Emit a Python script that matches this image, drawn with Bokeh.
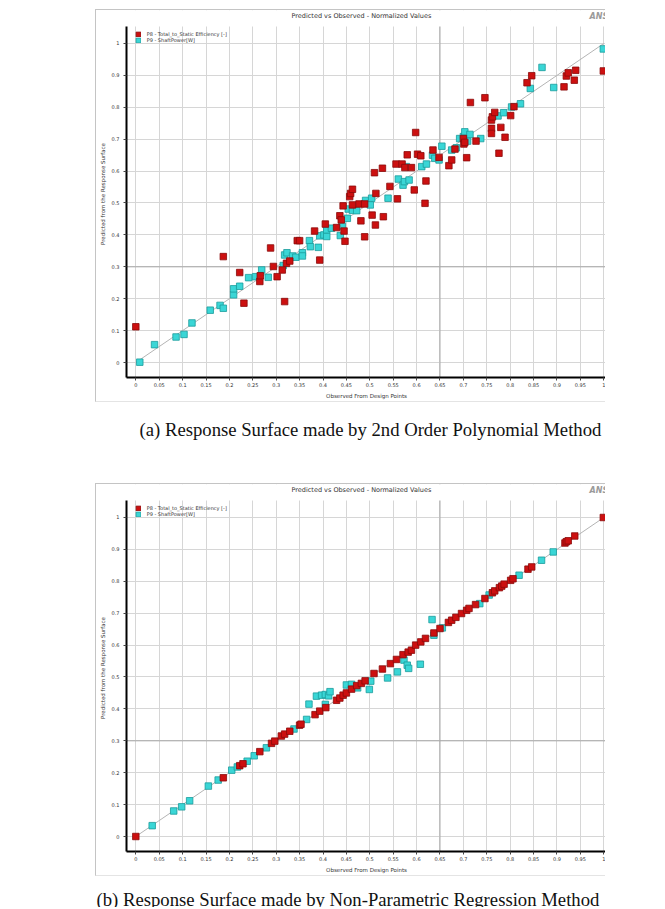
from bokeh.plotting import figure
from bokeh.models import (Range1d, FixedTicker, Span, Label, Legend, LegendItem,
                          ColumnDataSource, BoxAnnotation)
from bokeh.layouts import column
from bokeh.embed import file_html
from bokeh.resources import INLINE

# ---------------- data ----------------
TITLE = "Predicted vs Observed - Normalized Values"
X_LABEL = "Observed From Design Points"
Y_LABEL = "Predicted from the Response Surface"
S8 = "P8 - Total_to_Static Efficiency [-]"
S9 = "P9 - ShaftPower[W]"
CAPTION_A = "(a) Response Surface made by 2nd Order Polynomial  Method"
CAPTION_B = "(b) Response Surface made by Non-Parametric Regression Method"

X_TICKS = [0, 0.05, 0.1, 0.15, 0.2, 0.25, 0.3, 0.35, 0.4, 0.45, 0.5,
           0.55, 0.6, 0.65, 0.7, 0.75, 0.8, 0.85, 0.9, 0.95, 1]
X_TICK_LABELS = ["0", "0.05", "0.1", "0.15", "0.2", "0.25", "0.3", "0.35", "0.4",
                 "0.45", "0.5", "0.55", "0.6", "0.65", "0.7", "0.75", "0.8", "0.85",
                 "0.9", "0.95", "1"]
Y_TICKS = [0, 0.1, 0.2, 0.3, 0.4, 0.5, 0.6, 0.7, 0.8, 0.9, 1]
Y_TICK_LABELS = ["0", "0.1", "0.2", "0.3", "0.4", "0.5", "0.6", "0.7", "0.8", "0.9", "1"]
MAJOR_X = [0.65]
MAJOR_Y = [0.3]
DIAG = [0.0, 1.0]

# (a) 2nd order polynomial
a_p8_obs = [0.0, 0.187, 0.222, 0.231, 0.265, 0.266, 0.288, 0.294, 0.302, 0.313,
            0.318, 0.322, 0.329, 0.345, 0.350, 0.382, 0.393, 0.405, 0.429, 0.436,
            0.439, 0.443, 0.445, 0.447, 0.457, 0.459, 0.463, 0.463, 0.477, 0.481,
            0.489, 0.489, 0.505, 0.510, 0.512, 0.513, 0.527, 0.529, 0.543, 0.556,
            0.559, 0.569, 0.575, 0.580, 0.589, 0.595, 0.598, 0.602, 0.609, 0.618,
            0.620, 0.635, 0.648, 0.669, 0.675, 0.682, 0.700, 0.701, 0.703, 0.707,
            0.715, 0.727, 0.746, 0.760, 0.760, 0.760, 0.762, 0.767, 0.776, 0.780,
            0.789, 0.801, 0.808, 0.836, 0.846, 0.915, 0.920, 0.924, 0.937, 0.940,
            0.999]
a_p8_pred = [0.112, 0.332, 0.282, 0.186, 0.254, 0.272, 0.359, 0.301, 0.269, 0.290,
             0.191, 0.311, 0.318, 0.382, 0.382, 0.412, 0.321, 0.434, 0.423, 0.460,
             0.447, 0.491, 0.412, 0.380, 0.520, 0.530, 0.543, 0.494, 0.497, 0.444,
             0.497, 0.394, 0.462, 0.595, 0.431, 0.530, 0.609, 0.457, 0.552, 0.622,
             0.513, 0.622, 0.611, 0.651, 0.611, 0.541, 0.721, 0.653, 0.648, 0.499,
             0.569, 0.666, 0.643, 0.617, 0.635, 0.669, 0.702, 0.685, 0.690, 0.642,
             0.815, 0.694, 0.830, 0.760, 0.734, 0.718, 0.770, 0.784, 0.656, 0.737,
             0.706, 0.774, 0.802, 0.877, 0.899, 0.864, 0.898, 0.908, 0.885, 0.916,
             0.914]
a_p9_obs = [0.0085, 0.040, 0.086, 0.103, 0.120, 0.159, 0.180, 0.187, 0.209, 0.209,
            0.222, 0.241, 0.256, 0.269, 0.283, 0.315, 0.318, 0.323, 0.335, 0.342,
            0.356, 0.356, 0.371, 0.373, 0.390, 0.393, 0.402, 0.408, 0.408, 0.418,
            0.437, 0.441, 0.452, 0.454, 0.463, 0.472, 0.491, 0.501, 0.504, 0.539,
            0.561, 0.571, 0.574, 0.578, 0.584, 0.611, 0.621, 0.634, 0.639, 0.648,
            0.654, 0.675, 0.685, 0.692, 0.700, 0.703, 0.709, 0.714, 0.737, 0.774,
            0.786, 0.803, 0.822, 0.843, 0.868, 0.893, 0.999]
a_p9_pred = [0.001, 0.056, 0.080, 0.088, 0.124, 0.164, 0.179, 0.170, 0.212, 0.231,
             0.239, 0.266, 0.269, 0.290, 0.267, 0.304, 0.337, 0.344, 0.334, 0.330,
             0.344, 0.334, 0.382, 0.363, 0.361, 0.397, 0.400, 0.415, 0.395, 0.421,
             0.398, 0.428, 0.452, 0.481, 0.477, 0.476, 0.508, 0.494, 0.515, 0.515,
             0.575, 0.556, 0.567, 0.614, 0.572, 0.614, 0.622, 0.650, 0.640, 0.635,
             0.678, 0.666, 0.673, 0.702, 0.708, 0.723, 0.694, 0.715, 0.702, 0.773,
             0.783, 0.801, 0.811, 0.859, 0.925, 0.862, 0.983]

# (b) non-parametric regression
b_p8_obs = [0.0, 0.187, 0.222, 0.229, 0.265, 0.290, 0.297, 0.311, 0.318, 0.329,
            0.350, 0.353, 0.383, 0.393, 0.406, 0.429, 0.436, 0.443, 0.450, 0.461,
            0.472, 0.482, 0.490, 0.509, 0.527, 0.544, 0.557, 0.571, 0.582, 0.589,
            0.598, 0.609, 0.619, 0.637, 0.650, 0.668, 0.675, 0.684, 0.696, 0.707,
            0.712, 0.726, 0.746, 0.762, 0.767, 0.777, 0.782, 0.787, 0.801, 0.806,
            0.838, 0.846, 0.917, 0.920, 0.924, 0.938, 0.999]
b_p8_pred = [0.0, 0.184, 0.222, 0.228, 0.266, 0.292, 0.299, 0.315, 0.321, 0.330,
             0.349, 0.352, 0.382, 0.393, 0.404, 0.427, 0.434, 0.443, 0.450, 0.462,
             0.473, 0.480, 0.488, 0.511, 0.525, 0.542, 0.555, 0.570, 0.578, 0.584,
             0.600, 0.610, 0.621, 0.638, 0.652, 0.671, 0.678, 0.687, 0.699, 0.709,
             0.715, 0.727, 0.746, 0.764, 0.770, 0.780, 0.785, 0.791, 0.803, 0.808,
             0.838, 0.845, 0.920, 0.924, 0.927, 0.942, 1.0]
b_p9_obs = [0.035, 0.081, 0.098, 0.115, 0.155, 0.176, 0.205, 0.217, 0.238, 0.253,
            0.279, 0.338, 0.365, 0.370, 0.386, 0.397, 0.405, 0.412, 0.415, 0.405,
            0.450, 0.461, 0.474, 0.499, 0.502, 0.538, 0.559, 0.573, 0.580, 0.583,
            0.608, 0.633, 0.655, 0.637, 0.735, 0.755, 0.819, 0.867, 0.892]
b_p9_pred = [0.034, 0.080, 0.093, 0.112, 0.158, 0.177, 0.208, 0.218, 0.236, 0.253,
             0.278, 0.337, 0.367, 0.415, 0.440, 0.443, 0.445, 0.441, 0.454, 0.414,
             0.475, 0.477, 0.466, 0.461, 0.487, 0.497, 0.516, 0.553, 0.537, 0.527,
             0.540, 0.680, 0.654, 0.631, 0.730, 0.757, 0.819, 0.866, 0.892]

# ---------------- styles ----------------
RED, RED_EDGE = "#cc1010", "#8a0a0a"
CYAN, CYAN_EDGE = "#3ad6d6", "#1a9c9c"
GRID = "#d6d6d6"
GRID_MAJOR = "#a8a8a8"
TXT = "#333333"
SANS = "DejaVu Sans"
Y_LO, Y_PLOT_TOP, Y_HI = -0.047, 1.053, 1.1034   # plot area ends at Y_PLOT_TOP


def panel(p8x, p8y, p9x, p9y):
    p = figure(width=510, height=393, output_backend="svg", toolbar_location=None,
               x_range=Range1d(-0.0199, 1.0058), y_range=Range1d(Y_LO, Y_HI),
               min_border_left=30, min_border_right=0, min_border_top=0,
               min_border_bottom=26, background_fill_color="white",
               border_fill_color="white", outline_line_color=None)
    p.title.visible = False
    p.title.text_font_size = "0px"
    p.title.standoff = 0
    p.styles = {"border-left": "1px solid #c4c4c4", "border-top": "1px solid #c4c4c4",
                "border-bottom": "1px solid #e4e4e4"}

    p.xaxis.ticker = FixedTicker(ticks=X_TICKS, minor_ticks=[])
    p.yaxis.ticker = FixedTicker(ticks=Y_TICKS, minor_ticks=[])
    p.xaxis.major_label_overrides = dict(zip(X_TICKS, X_TICK_LABELS))
    p.yaxis.major_label_overrides = dict(zip(Y_TICKS, Y_TICK_LABELS))
    p.xgrid.ticker = FixedTicker(ticks=X_TICKS, minor_ticks=[])
    p.ygrid.ticker = FixedTicker(ticks=Y_TICKS, minor_ticks=[])
    p.grid.grid_line_color = GRID
    p.grid.grid_line_width = 1
    p.yaxis.bounds = (Y_LO, Y_PLOT_TOP)

    for ax in (p.xaxis[0], p.yaxis[0]):
        ax.axis_line_color = "black"
        ax.axis_line_width = 2
        ax.major_tick_line_color = "#444444"
        ax.major_tick_out = 3
        ax.major_tick_in = 0
        ax.minor_tick_line_color = None
        ax.major_label_text_font = SANS
        ax.major_label_text_font_size = "5px"
        ax.major_label_text_color = TXT
        ax.axis_label_text_font = SANS
        ax.axis_label_text_font_size = "5.5px"
        ax.axis_label_text_font_style = "normal"
        ax.axis_label_text_color = TXT
    p.xaxis.axis_label = X_LABEL
    p.yaxis.axis_label = Y_LABEL
    p.xaxis.major_label_standoff = 2
    p.xaxis.axis_label_standoff = 3
    p.yaxis.major_label_standoff = 4
    p.yaxis.axis_label_standoff = 3

    for v in MAJOR_X:
        p.add_layout(Span(location=v, dimension="height", line_color=GRID_MAJOR,
                          line_width=1, level="underlay"))
    for v in MAJOR_Y:
        p.add_layout(Span(location=v, dimension="width", line_color=GRID_MAJOR,
                          line_width=1, level="underlay"))
    # white header strip above the plotting area (title row)
    p.add_layout(BoxAnnotation(bottom=Y_PLOT_TOP, fill_color="white", fill_alpha=1,
                               line_color=None, level="underlay"))

    p.line(x=DIAG, y=DIAG, line_color="#b4b4b4", line_width=1)

    s8 = ColumnDataSource(dict(obs=p8x, pred=p8y))
    s9 = ColumnDataSource(dict(obs=p9x, pred=p9y))
    r9 = p.rect(x="obs", y="pred", width=6.5, height=6.5, width_units="screen",
                height_units="screen", source=s9, fill_color=CYAN,
                line_color=CYAN_EDGE, line_width=0.8)
    r8 = p.rect(x="obs", y="pred", width=6.5, height=6.5, width_units="screen",
                height_units="screen", source=s8, fill_color=RED,
                line_color=RED_EDGE, line_width=0.8)

    leg = Legend(items=[LegendItem(label=S8, renderers=[r8]),
                        LegendItem(label=S9, renderers=[r9])],
                 location=(8.7, 333.7), margin=0, padding=0, spacing=0,
                 glyph_width=6, glyph_height=6, label_height=6, label_standoff=6,
                 label_text_font=SANS, label_text_font_size="5px",
                 label_text_color=TXT, border_line_color=None,
                 background_fill_alpha=0)
    p.add_layout(leg)

    p.add_layout(Label(x=165, y=362, x_units="screen", y_units="screen",
                       text=TITLE, text_align="left", text_baseline="middle",
                       text_font=SANS, text_font_size="6.5px", text_color=TXT))
    p.add_layout(Label(x=463, y=366, x_units="screen", y_units="screen",
                       text="ANSYS", text_baseline="top", text_align="left",
                       text_font=SANS, text_font_size="8px",
                       text_font_style="bold italic", text_color="#9a9a9a"))
    return p


def caption(text, height, x0, cy):
    c = figure(width=665, height=height, output_backend="svg", toolbar_location=None,
               x_axis_type=None, y_axis_type=None, min_border=0,
               x_range=Range1d(0, 1), y_range=Range1d(0, 1),
               outline_line_color=None, background_fill_color="white",
               border_fill_color="white")
    c.add_layout(Label(x=x0, y=cy, x_units="screen", y_units="screen", text=text,
                       text_align="left", text_baseline="middle",
                       text_font="Liberation Serif", text_font_size="18.7px",
                       text_color="#111111"))
    return c


pa = panel(a_p8_obs, a_p8_pred, a_p9_obs, a_p9_pred)
pa.margin = (9, 0, 0, 95)
ca = caption(CAPTION_A, 81, 109, 54.5)
pb = panel(b_p8_obs, b_p8_pred, b_p9_obs, b_p9_pred)
pb.margin = (0, 0, 0, 95)
cb = caption(CAPTION_B, 31, 66, 8)

layout = column(pa, ca, pb, cb, spacing=0)
open("out.html", "w").write(file_html(layout, INLINE))
